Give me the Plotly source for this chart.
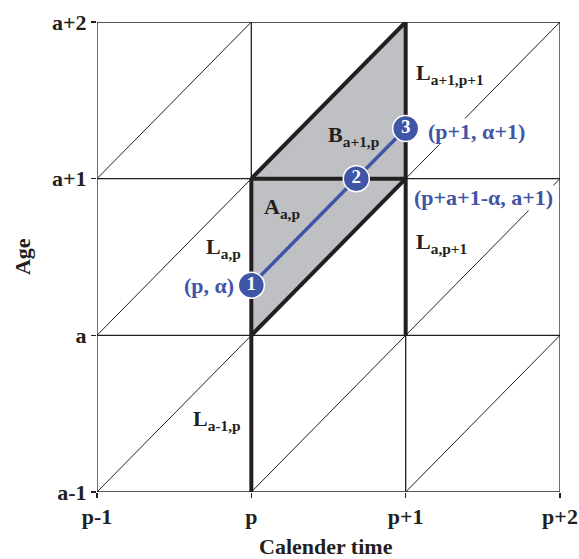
import plotly.graph_objects as go

# ---- data ----
x_ticks = [0, 1, 2, 3]
x_labels = ["p-1", "p", "p+1", "p+2"]
y_ticks = [0, 1, 2, 3]
y_labels = ["a-1", "a", "a+1", "a+2"]

# shaded parallelogram (A_{a,p} + B_{a+1,p})
poly_x = [1, 1, 2, 2, 1]
poly_y = [1, 2, 3, 2, 1]

# life line of an individual
life_x = [1, 1.68, 2]
life_y = [1.32, 2, 2.32]
life_num = ["1", "2", "3"]

# diagonal (cohort) lines y - x = k
diag_k = [-2, -1, 0, 1, 2]

# thick boundary segments
thick_segments = [
    ([1, 1], [0, 2]),
    ([2, 2], [1, 3]),
    ([1, 2], [2, 2]),
    ([1, 2], [2, 3]),
    ([1, 2], [1, 2]),
]

labels = [
    # text, x, y, xanchor, color, white background
    ("L<sub>a,p</sub>", 0.700, 1.557, "left", "black", False),
    ("A<sub>a,p</sub>", 1.076, 1.813, "left", "black", False),
    ("B<sub>a+1,p</sub>", 1.490, 2.272, "left", "black", False),
    ("L<sub>a+1,p+1</sub>", 2.061, 2.668, "left", "black", True),
    ("L<sub>a,p+1</sub>", 2.061, 1.589, "left", "black", True),
    ("L<sub>a-1,p</sub>", 0.616, 0.460, "left", "black", False),
    ("(p, α)", 0.894, 1.321, "right", "blue", False),
    ("(p+1, α+1)", 2.138, 2.304, "left", "blue", True),
    ("(p+a+1-α, a+1)", 2.048, 1.877, "left", "blue", True),
]

BLACK = "#231f20"
BLUE = "#3f55a5"
GRAY = "#bfc0c4"
FONT = "Liberation Serif"

fig = go.Figure()

fig.add_trace(go.Scatter(x=poly_x, y=poly_y, fill="toself", fillcolor=GRAY,
                         mode="lines", line=dict(width=0), hoverinfo="skip"))

# grid lines
gx, gy = [], []
for v in x_ticks:
    gx += [v, v, None]
    gy += [y_ticks[0], y_ticks[-1], None]
for v in y_ticks:
    gx += [x_ticks[0], x_ticks[-1], None]
    gy += [v, v, None]
fig.add_trace(go.Scatter(x=gx, y=gy, mode="lines",
                         line=dict(color=BLACK, width=1.3), hoverinfo="skip"))

# diagonals
dx, dy = [], []
lo, hi = x_ticks[0], x_ticks[-1]
for k in diag_k:
    x0 = max(lo, lo - k)
    x1 = min(hi, hi - k)
    dx += [x0, x1, None]
    dy += [x0 + k, x1 + k, None]
fig.add_trace(go.Scatter(x=dx, y=dy, mode="lines",
                         line=dict(color=BLACK, width=1), hoverinfo="skip"))

# thick segments
tx, ty = [], []
for sx, sy in thick_segments:
    tx += sx + [None]
    ty += sy + [None]
fig.add_trace(go.Scatter(x=tx, y=ty, mode="lines",
                         line=dict(color=BLACK, width=4), hoverinfo="skip"))

# life line
fig.add_trace(go.Scatter(x=life_x, y=life_y, mode="lines+markers+text",
                         text=["<b>%s</b>" % t for t in life_num],
                         textposition="middle center",
                         textfont=dict(family=FONT, size=19, color="white"),
                         line=dict(color=BLUE, width=3.5),
                         marker=dict(size=26, color=BLUE, line=dict(color="white", width=1.5)),
                         hoverinfo="skip"))

for text, x, y, xa, col, bg in labels:
    fig.add_annotation(x=x, y=y, xref="x", yref="y", text="<b>%s</b>" % text,
                       showarrow=False, xanchor=xa, yanchor="middle",
                       font=dict(family=FONT, size=22, color=BLUE if col == "blue" else BLACK),
                       bgcolor="white" if bg else "rgba(0,0,0,0)", borderpad=0)

fig.add_annotation(x=-0.162, y=0.502, xref="paper", yref="paper", text="<b>Age</b>",
                   textangle=-90, showarrow=False, xanchor="center", yanchor="middle",
                   font=dict(family=FONT, size=22, color=BLACK))
fig.add_annotation(x=0.4946, y=-0.115, xref="paper", yref="paper", text="<b>Calender time</b>",
                   showarrow=False, xanchor="center", yanchor="middle",
                   font=dict(family=FONT, size=22, color=BLACK))

axis_common = dict(showgrid=False, zeroline=False, showline=False, ticks="outside",
                   ticklen=5, tickwidth=1.3, tickcolor=BLACK, automargin=False,
                   tickfont=dict(family=FONT, size=22, color=BLACK))
fig.update_xaxes(range=[0, 3], tickvals=x_ticks,
                 ticktext=["<b>%s</b>" % t for t in x_labels], **axis_common)
fig.update_yaxes(range=[0, 3], tickvals=y_ticks,
                 ticktext=["<b>%s</b>" % t for t in y_labels], **axis_common)

fig.update_layout(width=579, height=559, margin=dict(l=97, r=19, t=22, b=67),
                  plot_bgcolor="white", paper_bgcolor="white", showlegend=False)

# remove the default page margin so the figure fills the window exactly
fig.write_html("out.html",
               config={"displayModeBar": False, "staticPlot": True},
               post_script="document.body.style.margin='0';"
                           "document.body.style.overflow='hidden';"
                           "document.documentElement.style.overflow='hidden';")
